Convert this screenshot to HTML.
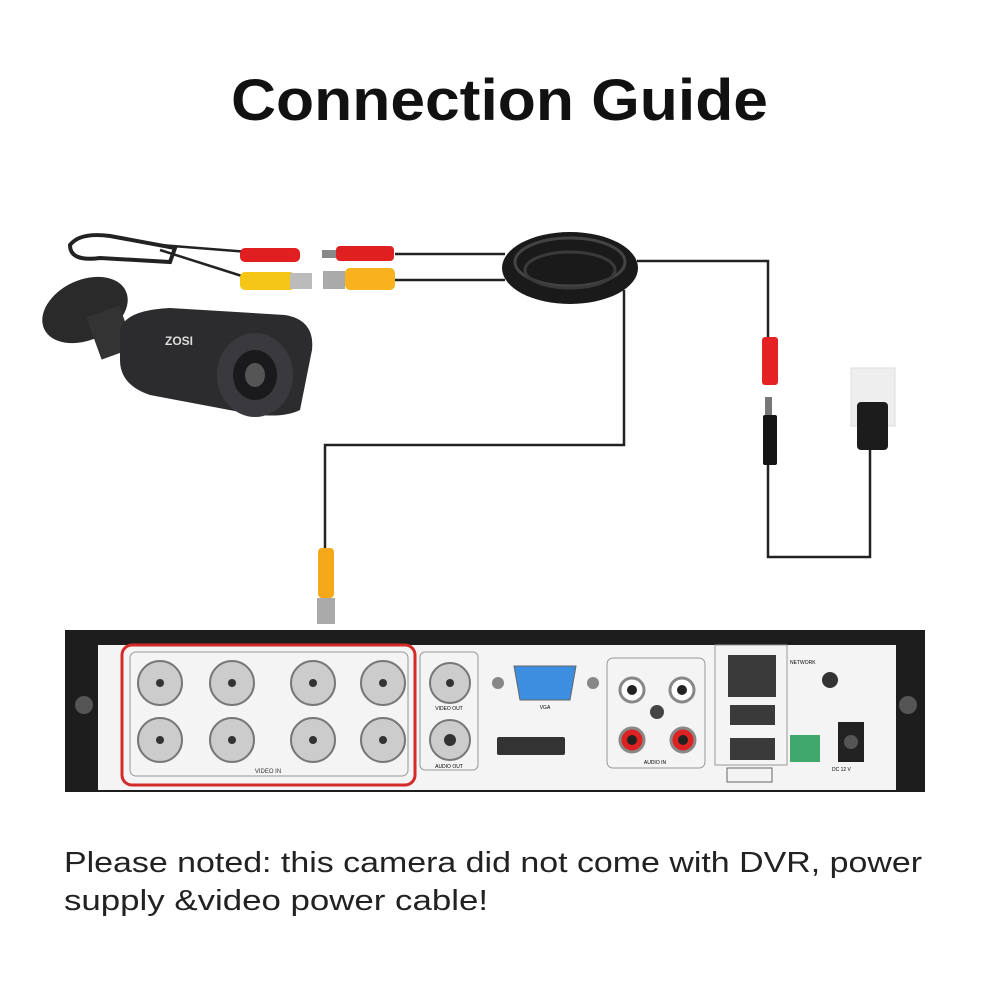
<!DOCTYPE html>
<html><head><style>body{margin:0;background:#fff}svg{display:block}</style></head><body>
<svg width="1000" height="1000" viewBox="0 0 1000 1000" xmlns="http://www.w3.org/2000/svg" font-family="Liberation Sans, sans-serif">
<text x="231" y="120" textLength="537" lengthAdjust="spacingAndGlyphs" font-size="58" font-weight="bold" fill="#111">Connection Guide</text>
<!-- cables -->
<g fill="none" stroke="#222" stroke-width="2.5">
<path d="M395 254 H505"/><path d="M395 280 H505"/>
<path d="M637 261 H768 V337"/>
<path d="M768 465 V557 H870 V450"/>
<path d="M624 290 V445 H325 V548"/>
<path d="M160 245 L300 256"/><path d="M160 250 L245 277"/>
</g>
<!-- coil -->
<ellipse cx="570" cy="268" rx="68" ry="36" fill="#1a1a1a"/>
<ellipse cx="570" cy="262" rx="55" ry="24" fill="none" stroke="#444" stroke-width="3"/>
<ellipse cx="570" cy="270" rx="45" ry="18" fill="none" stroke="#3a3a3a" stroke-width="3"/>
<!-- camera connectors -->
<rect x="240" y="248" width="60" height="14" rx="5" fill="#e02020"/>
<rect x="240" y="272" width="55" height="18" rx="5" fill="#f5c518"/>
<rect x="290" y="273" width="22" height="16" fill="#bbb"/>
<rect x="322" y="250" width="14" height="8" fill="#888"/>
<rect x="336" y="246" width="58" height="15" rx="4" fill="#e02020"/>
<rect x="323" y="271" width="22" height="18" fill="#aaa"/>
<rect x="345" y="268" width="50" height="22" rx="5" fill="#f7b21e"/>
<!-- camera -->
<path d="M70 245 Q80 232 110 236 L175 248 L170 262 L100 258 Q70 262 70 245Z" fill="none" stroke="#222" stroke-width="4"/>
<ellipse cx="85" cy="310" rx="45" ry="30" fill="#2a2a2a" transform="rotate(-25 85 310)"/>
<rect x="92" y="310" width="35" height="45" fill="#333" transform="rotate(-20 110 330)"/>
<path d="M120 330 Q125 310 170 308 L285 315 Q315 320 312 350 L300 410 Q280 420 240 412 L150 395 Q120 385 120 360Z" fill="#2c2c2e"/>
<ellipse cx="255" cy="375" rx="38" ry="42" fill="#3a3a3e"/>
<ellipse cx="255" cy="375" rx="22" ry="25" fill="#1a1a1c"/>
<ellipse cx="255" cy="375" rx="10" ry="12" fill="#555"/>
<text x="165" y="345" font-size="12" font-weight="bold" fill="#ddd">ZOSI</text>
<!-- power connectors -->
<rect x="762" y="337" width="16" height="48" rx="3" fill="#e52222"/>
<rect x="765" y="397" width="7" height="18" fill="#777"/>
<rect x="763" y="415" width="14" height="50" rx="2" fill="#151515"/>
<rect x="851" y="368" width="44" height="58" fill="#eee" stroke="#ddd"/>
<rect x="857" y="402" width="31" height="48" rx="4" fill="#1c1c1c"/>
<!-- BNC to DVR -->
<rect x="318" y="548" width="16" height="50" rx="4" fill="#f5a81a"/>
<rect x="317" y="598" width="18" height="26" fill="#aaa"/>
<!-- DVR -->
<rect x="65" y="630" width="860" height="162" fill="#1d1d1d"/>
<rect x="98" y="645" width="798" height="145" fill="#f4f4f4"/>
<circle cx="84" cy="705" r="9" fill="#555"/><circle cx="908" cy="705" r="9" fill="#555"/>
<rect x="122" y="645" width="293" height="140" rx="10" fill="none" stroke="#d42a2a" stroke-width="3"/>
<rect x="130" y="652" width="278" height="124" rx="6" fill="none" stroke="#999"/>
<g fill="#ccc" stroke="#777" stroke-width="2">
<circle cx="160" cy="683" r="22"/><circle cx="232" cy="683" r="22"/><circle cx="313" cy="683" r="22"/><circle cx="383" cy="683" r="22"/>
<circle cx="160" cy="740" r="22"/><circle cx="232" cy="740" r="22"/><circle cx="313" cy="740" r="22"/><circle cx="383" cy="740" r="22"/>
<circle cx="450" cy="683" r="20"/><circle cx="450" cy="740" r="20"/>
</g>
<g fill="#333">
<circle cx="160" cy="683" r="4"/><circle cx="232" cy="683" r="4"/><circle cx="313" cy="683" r="4"/><circle cx="383" cy="683" r="4"/>
<circle cx="160" cy="740" r="4"/><circle cx="232" cy="740" r="4"/><circle cx="313" cy="740" r="4"/><circle cx="383" cy="740" r="4"/>
<circle cx="450" cy="683" r="4"/><circle cx="450" cy="740" r="6"/>
</g>
<text x="268" y="773" font-size="6" text-anchor="middle" fill="#333">VIDEO IN</text>
<rect x="420" y="652" width="58" height="118" rx="5" fill="none" stroke="#999"/>
<text x="449" y="710" font-size="5" text-anchor="middle">VIDEO OUT</text>
<text x="449" y="768" font-size="5" text-anchor="middle">AUDIO OUT</text>
<path d="M514 666 H576 L570 700 H520Z" fill="#3c8fe0" stroke="#666"/>
<circle cx="498" cy="683" r="6" fill="#888"/><circle cx="593" cy="683" r="6" fill="#888"/>
<text x="545" y="709" font-size="5" text-anchor="middle">VGA</text>
<rect x="497" y="737" width="68" height="18" rx="2" fill="#333"/>
<rect x="607" y="658" width="98" height="110" rx="6" fill="none" stroke="#999"/>
<circle cx="632" cy="690" r="12" fill="#fff" stroke="#888" stroke-width="3"/><circle cx="632" cy="690" r="5" fill="#222"/>
<circle cx="682" cy="690" r="12" fill="#fff" stroke="#888" stroke-width="3"/><circle cx="682" cy="690" r="5" fill="#222"/>
<circle cx="632" cy="740" r="12" fill="#d22" stroke="#888" stroke-width="3"/><circle cx="632" cy="740" r="5" fill="#222"/>
<circle cx="683" cy="740" r="12" fill="#d22" stroke="#888" stroke-width="3"/><circle cx="683" cy="740" r="5" fill="#222"/>
<circle cx="657" cy="712" r="7" fill="#444"/>
<text x="655" y="764" font-size="5" text-anchor="middle">AUDIO IN</text>
<rect x="715" y="645" width="72" height="120" fill="none" stroke="#999"/>
<rect x="728" y="655" width="48" height="42" fill="#3a3a3a"/>
<rect x="730" y="705" width="45" height="20" fill="#3a3a3a"/>
<rect x="730" y="738" width="45" height="22" fill="#3a3a3a"/>
<rect x="727" y="768" width="45" height="14" fill="none" stroke="#666"/>
<text x="790" y="664" font-size="5">NETWORK</text>
<circle cx="830" cy="680" r="8" fill="#333"/>
<rect x="790" y="735" width="30" height="27" fill="#3fa86a"/>
<rect x="838" y="722" width="26" height="40" fill="#222"/>
<circle cx="851" cy="742" r="7" fill="#555"/>
<text x="832" y="771" font-size="5">DC 12 V</text>
<!-- footer text -->
<text x="64" y="872" font-size="29" textLength="858" lengthAdjust="spacingAndGlyphs" fill="#222">Please noted: this camera did not come with DVR, power</text>
<text x="64" y="910" font-size="29" textLength="424" lengthAdjust="spacingAndGlyphs" fill="#222">supply &amp;video power cable!</text>
</svg>
</body></html>
